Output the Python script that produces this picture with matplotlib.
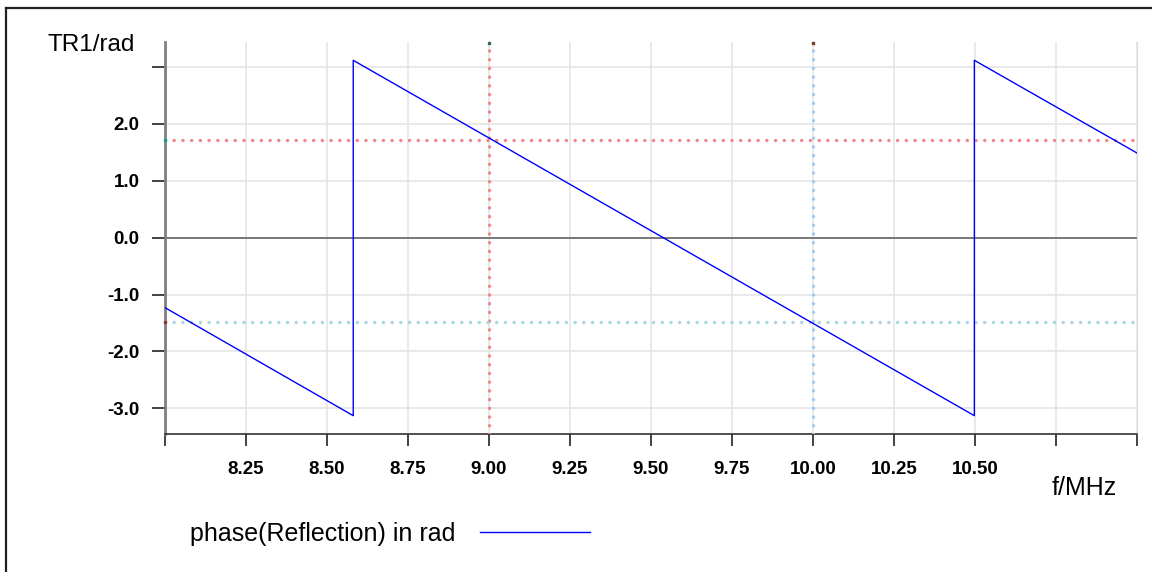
import matplotlib

matplotlib.use("Agg")
import matplotlib.pyplot as plt
from matplotlib.lines import Line2D

plt.rcParams["font.family"] = ["Liberation Sans", "DejaVu Sans"]

# phase trace (corners of the sawtooth)
freq_mhz = [8.0, 8.581, 8.581, 10.498, 10.498, 11.0]
phase_rad = [-1.23, -3.13, 3.12, -3.13, 3.12, 1.49]

# markers: (frequency, value)
m1_freq, m1_val = 9.00, 1.72
m2_freq, m2_val = 10.00, -1.48

x_ticks = [8.0, 8.25, 8.5, 8.75, 9.0, 9.25, 9.5, 9.75, 10.0, 10.25, 10.5, 10.75, 11.0]
x_labels = ["", "8.25", "8.50", "8.75", "9.00", "9.25", "9.50", "9.75",
            "10.00", "10.25", "10.50", "", ""]
y_ticks = [-3, -2, -1, 0, 1, 2, 3]
y_labels = ["-3.0", "-2.0", "-1.0", "0.0", "1.0", "2.0", ""]

W, H = 1152, 572
fig = plt.figure(figsize=(W / 100, H / 100), dpi=100)
ax = fig.add_axes([165 / W, 1 - 434 / H, (1137 - 165) / W, (434 - 42) / H])

ax.set_xlim(8.0, 11.0)
ax.set_ylim(-3.452, 3.442)
ax.set_xticks(x_ticks)
ax.set_xticklabels(x_labels)
ax.set_yticks(y_ticks)
ax.set_yticklabels(y_labels)

ax.grid(True, color="#e3e3e3", lw=1.1)
ax.set_axisbelow(True)
ax.spines["top"].set_visible(False)
ax.spines["right"].set_color("#dddddd")
ax.spines["left"].set_color("#808080")
ax.spines["left"].set_linewidth(2)
ax.spines["bottom"].set_color("#333333")
ax.spines["bottom"].set_linewidth(1.2)
ax.tick_params(axis="y", direction="out", length=9.4, width=1.2, color="#222222", pad=9)
ax.tick_params(axis="x", direction="out", length=8.6, width=1.2, color="#222222", pad=11)
for lab in ax.get_xticklabels() + ax.get_yticklabels():
    lab.set_fontsize(13.5)
    lab.set_fontweight("bold")

# zero line, reaching out past the left spine like a tick
ax.axhline(0, color="#666666", lw=1.2, zorder=2)
ax.add_line(Line2D([152 / W, 165 / W], [1 - 238.3 / H] * 2, transform=fig.transFigure,
                   color="#666666", lw=1.2))

dot = dict(linestyle=(0, (0.01, 2.5)), lw=2.5, dash_capstyle="round", zorder=3)
ax.axvline(m1_freq, color="#f08888", **dot)
ax.axhline(m1_val, color="#f08888", **dot)
ax.axvline(m2_freq, color="#a4caee", **dot)
ax.axhline(m2_val, color="#a8d6e4", **dot)
ax.plot([8.0], [m1_val], marker="s", ms=2, color="#1a9a9a", clip_on=False, zorder=5)
ax.plot([8.0], [m2_val], marker="s", ms=2, color="#8a3a2a", clip_on=False, zorder=5)
ax.plot([m1_freq], [3.43], marker="s", ms=1.6, color="#2a6a6a", clip_on=False, zorder=5)
ax.plot([m2_freq], [3.43], marker="s", ms=1.6, color="#7a3a2a", clip_on=False, zorder=5)

ax.plot(freq_mhz, phase_rad, color="#0000ff", lw=1.0, zorder=4,
        label="phase(Reflection) in rad")

fig.text(47 / W, 1 - 50.7 / H, "TR1/rad", fontsize=17.5, va="baseline", ha="left")
fig.text(1052 / W, 1 - 495 / H, "f/MHz", fontsize=18, va="baseline", ha="left")

fig.legend(loc="center left", bbox_to_anchor=(190 / W, 1 - 534 / H), frameon=False,
           markerfirst=False, fontsize=18, handlelength=4.4, handletextpad=1.0,
           borderpad=0, borderaxespad=0)

# screenshot frame (left and top edges only)
fig.add_artist(Line2D([6 / W, 6 / W], [0, 1 - 8 / H], transform=fig.transFigure,
                      color="#222222", lw=1.6))
fig.add_artist(Line2D([6 / W, 1], [1 - 8 / H] * 2, transform=fig.transFigure,
                      color="#222222", lw=1.6))

fig.savefig("out.png", dpi=100)
